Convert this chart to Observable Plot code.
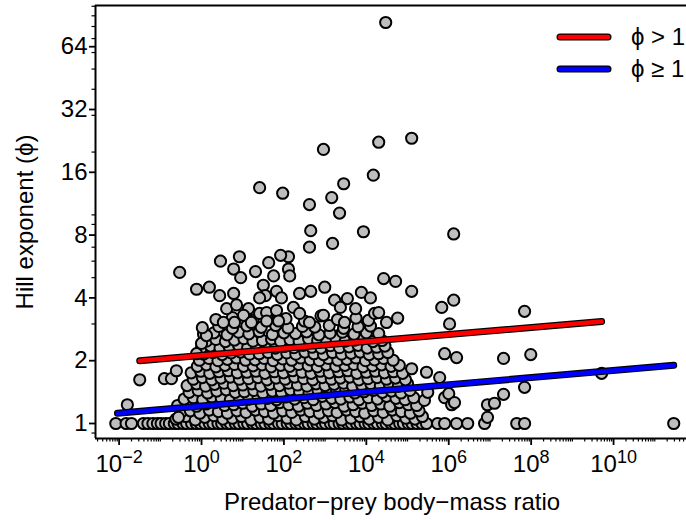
<!DOCTYPE html>
<html><head><meta charset="utf-8">
<script src="https://cdn.jsdelivr.net/npm/d3@7"></script>
<script src="https://cdn.jsdelivr.net/npm/@observablehq/plot@0.6"></script>
<style>
html,body{margin:0;padding:0;background:#fff;}
body{font-family:"Liberation Sans",Arial,sans-serif;}
</style></head>
<body><div id="chart"></div>
<script>
// ---- data (x stored as log10 of predator-prey body-mass ratio, y = Hill exponent phi) ----
const bottomRowLog10Ratio = [-2.08,-1.83,-1.7,-1.41,-1.3,-1.18,-1.07,-0.98,-0.87,-0.78,-0.66,-0.57,-0.45,-0.36,-0.24,-0.13,-0.03,0.08,0.19,0.28,0.4,0.49,0.61,0.7,0.82,0.91,1.03,1.12,1.24,1.33,1.45,1.54,1.66,1.75,1.87,1.96,2.08,2.17,2.29,2.38,2.5,2.59,2.71,2.8,2.92,3.01,3.13,3.22,3.34,3.43,3.55,3.64,3.76,3.85,3.97,4.06,4.18,4.27,4.39,4.48,4.6,4.69,4.81,4.9,5.02,5.11,5.23,5.35,5.46,5.73,5.9,6.19,6.46,6.87,7.65,7.84,11.46];

const cloudPoints = [
[-0.62,1.05],[-0.38,1.08],[-0.15,1.04],[0.08,1.07],[0.3,1.09],[0.52,1.05],[0.75,1.06],[0.97,1.08],[1.2,1.04],[1.42,1.07],[1.63,1.05],[1.86,1.09],[2.08,1.06],[2.3,1.04],[2.52,1.08],[2.74,1.05],[2.97,1.07],[3.18,1.09],[3.4,1.04],[3.63,1.06],[3.85,1.08],[4.07,1.05],[4.3,1.07],[4.52,1.04],[4.74,1.09],[4.96,1.06],[5.18,1.05],[5.36,1.08],
[-0.5,1.13],[-0.27,1.15],[-0.04,1.12],[0.19,1.16],[0.41,1.14],[0.63,1.12],[0.86,1.15],[1.08,1.13],[1.31,1.16],[1.53,1.14],[1.75,1.12],[1.97,1.15],[2.19,1.13],[2.41,1.16],[2.63,1.14],[2.86,1.12],[3.08,1.15],[3.29,1.13],[3.52,1.16],[3.74,1.14],[3.96,1.12],[4.18,1.15],[4.41,1.13],[4.63,1.16],[4.85,1.14],[5.07,1.12],[5.28,1.15],
[-0.58,1.22],[-0.35,1.25],[-0.12,1.21],[0.11,1.24],[0.33,1.26],[0.56,1.22],[0.78,1.23],[1.0,1.25],[1.23,1.21],[1.45,1.24],[1.68,1.22],[1.9,1.26],[2.12,1.23],[2.35,1.21],[2.57,1.25],[2.79,1.22],[3.02,1.24],[3.24,1.26],[3.46,1.21],[3.68,1.23],[3.9,1.25],[4.13,1.22],[4.35,1.24],[4.57,1.21],[4.8,1.26],[5.02,1.23],[5.22,1.22],
[-0.42,1.31],[-0.2,1.33],[0.03,1.3],[0.25,1.34],[0.48,1.32],[0.7,1.3],[0.92,1.33],[1.15,1.31],[1.37,1.35],[1.6,1.32],[1.82,1.3],[2.04,1.34],[2.26,1.31],[2.49,1.33],[2.71,1.3],[2.93,1.35],[3.16,1.32],[3.38,1.31],[3.6,1.34],[3.82,1.3],[4.05,1.33],[4.27,1.31],[4.49,1.35],[4.72,1.32],[4.94,1.3],[5.15,1.33],
[-0.3,1.41],[-0.08,1.44],[0.15,1.4],[0.37,1.43],[0.6,1.45],[0.82,1.41],[1.04,1.42],[1.27,1.44],[1.49,1.4],[1.72,1.43],[1.94,1.41],[2.16,1.45],[2.38,1.42],[2.61,1.4],[2.83,1.44],[3.05,1.41],[3.28,1.43],[3.5,1.45],[3.72,1.4],[3.94,1.42],[4.17,1.44],[4.39,1.41],[4.61,1.43],[4.84,1.4],[5.06,1.44],
[-0.35,1.52],[-0.12,1.55],[0.1,1.51],[0.32,1.54],[0.55,1.56],[0.77,1.52],[1.0,1.53],[1.22,1.55],[1.44,1.51],[1.66,1.54],[1.89,1.52],[2.11,1.56],[2.33,1.53],[2.56,1.51],[2.78,1.55],[3.0,1.52],[3.22,1.54],[3.45,1.56],[3.67,1.51],[3.89,1.53],[4.11,1.55],[4.34,1.52],[4.56,1.54],[4.78,1.51],[5.0,1.55],
[-0.2,1.63],[0.02,1.66],[0.25,1.62],[0.47,1.65],[0.7,1.67],[0.92,1.63],[1.14,1.64],[1.37,1.66],[1.59,1.62],[1.81,1.65],[2.03,1.63],[2.26,1.67],[2.48,1.64],[2.7,1.62],[2.93,1.66],[3.15,1.63],[3.37,1.65],[3.6,1.67],[3.82,1.62],[4.04,1.64],[4.26,1.66],[4.49,1.63],[4.71,1.65],[4.95,1.62],
[-0.25,1.75],[-0.02,1.78],[0.2,1.74],[0.42,1.77],[0.65,1.79],[0.87,1.75],[1.1,1.76],[1.32,1.78],[1.54,1.74],[1.77,1.77],[1.99,1.75],[2.21,1.79],[2.44,1.76],[2.66,1.74],[2.88,1.78],[3.1,1.75],[3.33,1.77],[3.55,1.79],[3.77,1.74],[4.0,1.76],[4.22,1.78],[4.44,1.75],[4.66,1.77],[4.88,1.74],
[-0.1,1.88],[0.12,1.91],[0.35,1.87],[0.57,1.9],[0.8,1.92],[1.02,1.88],[1.25,1.89],[1.47,1.91],[1.69,1.87],[1.92,1.9],[2.14,1.88],[2.36,1.92],[2.59,1.89],[2.81,1.87],[3.03,1.91],[3.26,1.88],[3.48,1.9],[3.7,1.92],[3.92,1.87],[4.15,1.89],[4.37,1.91],[4.6,1.88],[4.8,1.9],
[-0.05,2.01],[0.18,2.05],[0.4,2.0],[0.63,2.03],[0.85,2.06],[1.07,2.01],[1.3,2.02],[1.52,2.05],[1.74,2.0],[1.97,2.04],[2.19,2.01],[2.41,2.06],[2.64,2.02],[2.86,2.0],[3.08,2.05],[3.31,2.01],[3.53,2.03],[3.75,2.06],[3.98,2.0],[4.2,2.02],[4.42,2.05],[4.65,2.01],
[0.05,2.15],[0.28,2.19],[0.5,2.14],[0.72,2.18],[0.95,2.2],[1.17,2.15],[1.4,2.16],[1.62,2.19],[1.84,2.14],[2.07,2.18],[2.29,2.15],[2.51,2.2],[2.73,2.16],[2.96,2.14],[3.18,2.19],[3.4,2.15],[3.63,2.17],[3.85,2.2],[4.07,2.14],[4.3,2.16],[4.52,2.19],
[0.0,2.31],[0.22,2.35],[0.45,2.3],[0.67,2.34],[0.9,2.37],[1.12,2.31],[1.34,2.32],[1.57,2.36],[1.79,2.3],[2.01,2.34],[2.24,2.31],[2.46,2.37],[2.68,2.32],[2.9,2.3],[3.13,2.36],[3.35,2.31],[3.58,2.33],[3.8,2.37],[4.02,2.3],[4.25,2.32],[4.45,2.35],
[0.12,2.48],[0.35,2.53],[0.58,2.47],[0.8,2.51],[1.03,2.55],[1.25,2.48],[1.48,2.5],[1.7,2.54],[1.92,2.47],[2.15,2.52],[2.37,2.48],[2.6,2.55],[2.82,2.5],[3.04,2.47],[3.27,2.53],[3.49,2.48],[3.72,2.51],[3.94,2.55],[4.16,2.47],[4.38,2.5],
[0.05,2.68],[0.3,2.72],[0.62,2.66],[0.9,2.74],[1.15,2.69],[1.4,2.76],[1.72,2.67],[2.0,2.72],[2.28,2.7],[2.55,2.75],[2.85,2.66],[3.12,2.71],[3.42,2.74],[3.7,2.68],[4.0,2.72],[4.3,2.7],
[0.42,2.92],[0.75,2.86],[1.1,2.94],[1.45,2.89],[1.8,2.95],[2.1,2.87],[2.45,2.92],[2.75,2.9],[3.1,2.95],[3.45,2.86],[3.8,2.91],[4.1,2.93],
[0.35,3.15],[0.75,3.22],[1.25,3.12],[1.6,3.25],[2.05,3.18],[2.5,3.1],[2.9,3.28],[3.3,3.15],[3.75,3.2],[4.05,3.12]
];

const scatteredPoints = [
[4.47,83.6],[5.10,23.3],[4.30,22.3],[2.96,20.6],[1.41,13.5],[1.97,12.7],[4.17,15.5],[3.45,14.1],[3.16,12.1],[2.62,11.2],[3.35,10.2],[2.65,8.4],[3.93,8.3],[6.12,8.1],[3.18,7.3],[2.62,7.0],[2.11,6.3],[1.92,6.4],[1.63,5.9],[0.92,6.3],[0.46,6.0],[-0.53,5.3],[0.78,5.5],[0.95,5.0],[1.31,5.35],[1.75,5.1],[2.11,5.5],[2.14,5.1],[-0.12,4.4],[0.19,4.5],[0.44,4.1],[0.78,4.2],[1.50,4.6],[1.82,4.3],[1.55,4.1],[1.41,4.0],[1.94,4.0],[0.61,3.55],[0.85,3.7],[1.14,3.55],[1.41,3.37],[1.58,3.4],[1.82,3.48],[1.02,3.3],[0.53,3.05],[0.80,3.05],[1.21,3.05],[1.58,3.1],[1.87,3.1],[4.42,4.95],[4.71,4.8],[5.10,4.3],[5.83,3.6],[6.12,3.9],[2.99,4.5],[2.38,4.2],[2.65,4.3],[3.23,3.9],[3.54,3.97],[3.37,3.6],[3.74,3.55],[3.88,4.25],[4.10,4.0],[4.20,3.37],[4.30,3.4],[4.76,3.2],[4.49,3.05],[2.23,3.6],[2.38,3.37],[2.96,3.3],[3.47,3.05],[2.62,3.05],[6.02,3.0],[7.84,3.45],[5.90,2.16],[6.19,2.07],[7.33,2.05],[7.99,2.14],[9.71,1.74],[7.84,1.49],[7.33,1.38],[6.94,1.23],[7.11,1.25],[6.94,1.07],[5.41,1.29],[5.49,1.41],[5.90,1.33],[6.07,1.23],[5.78,1.66],[5.46,1.76],[5.10,1.83],[6.0,1.39],[6.14,1.26],[-1.50,1.62],[-1.80,1.23],[-0.90,1.64],[-0.73,1.64],[-0.61,1.79],[-0.56,1.07],[-0.12,2.16],[0.0,2.42],[0.12,2.64],[0.02,2.88]
];

// fitted regression lines (log10 ratio, phi) at their ends
const fitPhiGt1 = [[-1.50,2.0],[9.71,3.08]];
const fitPhiGe1 = [[-2.04,1.12],[11.46,1.9]];

const xTickExponents = [-2,0,2,4,6,8,10];
const yTickValues = [1,2,4,8,16,32,64];
const legendLabels = ["\u03D5 > 1","\u03D5 \u2265 1"];
const legendColors = ["#FF0000","#0000FF"];
const xTitle = "Predator\u2212prey body\u2212mass ratio";
const yTitle = "Hill exponent (\u03D5)";

// ---- build tables ----
const points = [
  ...bottomRowLog10Ratio.map(l => ({ratio: Math.pow(10, l), phi: 1})),
  ...cloudPoints.map(([l, p]) => ({ratio: Math.pow(10, l), phi: p})),
  ...scatteredPoints.map(([l, p]) => ({ratio: Math.pow(10, l), phi: p}))
];
const toRows = arr => arr.map(([l, p]) => ({ratio: Math.pow(10, l), phi: p}));
const lineGt1 = toRows(fitPhiGt1);
const lineGe1 = toRows(fitPhiGe1);

const xMin = Math.pow(10, -2.573), xMax = Math.pow(10, 11.77);
const yMin = Math.pow(2, -0.239), yMax = Math.pow(2, 6.656);

const majorX = xTickExponents.map(e => Math.pow(10, e));
const minorX = [];
for (let e = -3; e <= 11; e++) for (let k = 1; k <= 9; k++) {
  const v = k * Math.pow(10, e);
  if (v >= xMin && v <= xMax && !(k === 1 && e % 2 === 0)) minorX.push(v);
}
const minorY = [];
for (let e = -1; e <= 2; e++) for (let k = 1; k <= 9; k++) {
  const v = k * Math.pow(10, e);
  if (v >= yMin && v <= yMax && !yTickValues.includes(v)) minorY.push(v);
}
const chart = Plot.plot({
  width: 686, height: 520,
  marginLeft: 95, marginRight: 0, marginTop: 5, marginBottom: 82,
  style: {fontFamily: "'Liberation Sans', Arial, sans-serif", fontSize: "24px", background: "white", color: "black", overflow: "visible"},
  x: {type: "log", domain: [xMin, xMax], label: null},
  y: {type: "log", base: 2, domain: [yMin, yMax], label: null},
  marks: [
    Plot.dot(points, {x: "ratio", y: "phi", r: 5.6, fill: "#BEBEBE", stroke: "black", strokeWidth: 2}),
    Plot.line(lineGt1, {x: "ratio", y: "phi", stroke: "black", strokeWidth: 7, strokeLinecap: "round"}),
    Plot.line(lineGt1, {x: "ratio", y: "phi", stroke: legendColors[0], strokeWidth: 4.6, strokeLinecap: "round"}),
    Plot.line(lineGe1, {x: "ratio", y: "phi", stroke: "black", strokeWidth: 7, strokeLinecap: "round"}),
    Plot.line(lineGe1, {x: "ratio", y: "phi", stroke: legendColors[1], strokeWidth: 4.6, strokeLinecap: "round"}),
    Plot.ruleY([yMax], {stroke: "black", strokeWidth: 2}),
    Plot.ruleY([yMin], {stroke: "black", strokeWidth: 2}),
    Plot.ruleX([xMin], {stroke: "black", strokeWidth: 2}),
    Plot.axisX({ticks: majorX, tickSize: 7, tickPadding: 9, strokeWidth: 1.8, fontSize: 24, label: null,
      tickFormat: d => "10^" + Math.round(Math.log10(d))}),
    Plot.axisX({ticks: minorX, tickSize: 3.5, strokeWidth: 1.2, fill: "none", label: null}),
    Plot.axisY({ticks: yTickValues, tickSize: 6, tickPadding: 2, strokeWidth: 1.8, fontSize: 24, label: null,
      tickFormat: d => String(d)}),
    Plot.axisY({ticks: minorY, tickSize: 3.5, strokeWidth: 1.2, fill: "none", label: null})
  ]
});
document.getElementById("chart").appendChild(chart);

const svg = d3.select(chart);
// superscript exponents on x tick labels
svg.selectAll("g[aria-label='x-axis tick label'] text").each(function() {
  const t = d3.select(this);
  const s = t.text();
  if (!s.startsWith("10^")) return;
  const exp = s.slice(3).replace("-", "\u2212");
  t.text(null);
  t.append("tspan").text("10");
  t.append("tspan").attr("font-size", "18px").attr("dy", "-9").text(exp);
});

// axis titles
svg.append("text").attr("x", 392).attr("y", 510).attr("text-anchor", "middle")
  .attr("font-size", 24).attr("fill", "black").text(xTitle);
svg.append("text").attr("transform", "translate(33,222) rotate(-90)").attr("text-anchor", "middle")
  .attr("font-size", 24).attr("fill", "black").text(yTitle);

// legend
const lg = svg.append("g").attr("aria-label", "legend");
legendLabels.forEach((lab, i) => {
  const y = 37 + i * 32;
  lg.append("line").attr("x1", 560).attr("x2", 608).attr("y1", y).attr("y2", y)
    .attr("stroke", "black").attr("stroke-width", 7).attr("stroke-linecap", "round");
  lg.append("line").attr("x1", 560).attr("x2", 608).attr("y1", y).attr("y2", y)
    .attr("stroke", legendColors[i]).attr("stroke-width", 4.6).attr("stroke-linecap", "round");
  lg.append("text").attr("x", 631).attr("y", y).attr("dy", "0.35em").attr("text-anchor", "start")
    .attr("font-size", 24).attr("fill", "black").text(lab);
});
</script>
</body></html>
